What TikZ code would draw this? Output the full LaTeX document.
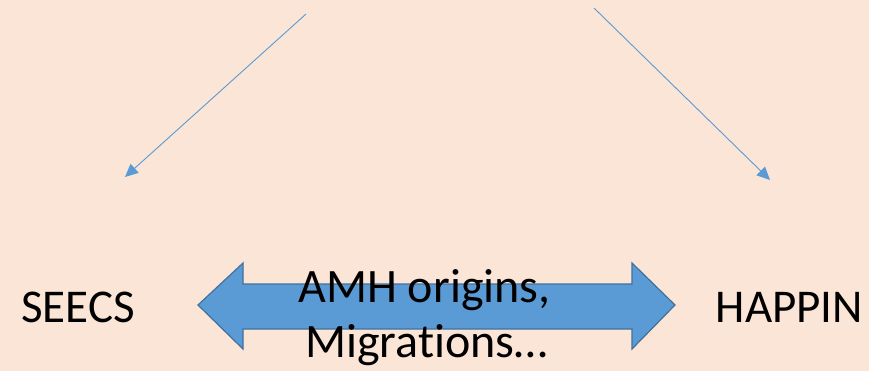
\documentclass[tikz,border=0pt]{standalone}
\usepackage{fontspec}
\setmainfont[Ligatures=NoCommon]{Carlito}
\usetikzlibrary{arrows.meta}
\definecolor{bgpeach}{HTML}{FBE5D6}
\definecolor{arrowblue}{HTML}{5B9BD5}
\definecolor{arrowedge}{HTML}{41719C}
\tikzset{
  thinarrow/.style={draw=arrowblue, line width=0.9pt, -{Triangle[length=13pt,width=12pt]}},
  bigtext/.style={font=\fontsize{48}{55}\selectfont, text=black, anchor=base, inner sep=0pt},
  labeltext/.style={font=\fontsize{47}{54}\selectfont, text=black, anchor=base, inner sep=0pt},
  bigarrow/.style={fill=arrowblue, draw=arrowedge, line width=1.2pt, line join=miter}
}
\begin{document}
\begin{tikzpicture}[x=1pt,y=-1pt]
\fill[bgpeach] (0,0) rectangle (869,371);
\useasboundingbox (0,0) rectangle (869,371);
\coordinate (t1s) at (306,14);
\coordinate (t1e) at (125,177);
\coordinate (t2s) at (594,8);
\coordinate (t2e) at (770,180);
\draw[thinarrow] (t1s) -- (t1e);
\draw[thinarrow] (t2s) -- (t2e);
\draw[bigarrow] (198,305) -- (243,263) -- (243,284) -- (632,284) -- (632,263) -- (675,305)
  -- (632,349) -- (632,329) -- (243,329) -- (243,349) -- cycle;
\node[labeltext] (seecs) at (78,322) {SEECS};
\node[labeltext] (happin) at (789.5,322) {HAPPIN};
\node[bigtext] (amh) at (424.5,302) {AMH origins,};
\node[bigtext] (mig) at (426.5,357) {Migrations…};
\end{tikzpicture}
\end{document}
